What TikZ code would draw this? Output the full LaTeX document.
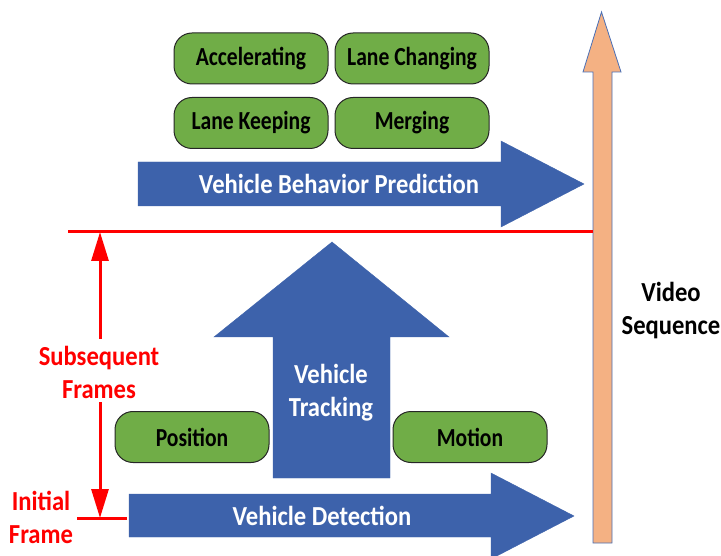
\documentclass[tikz,border=0pt]{standalone}
\usepackage{fontspec}
\setmainfont{Carlito}
\newfontfamily\boxff[FakeStretch=0.83]{Carlito}
\newfontfamily\bigff[FakeStretch=0.895]{Carlito}
\usetikzlibrary{arrows.meta}
\definecolor{boxgreen}{HTML}{70AD47}
\definecolor{arrowblue}{HTML}{3D62AB}
\definecolor{seqorange}{HTML}{F4B183}
\definecolor{seqedge}{HTML}{4A6FB5}
\definecolor{markred}{HTML}{FF0000}
\tikzset{
  boxfont/.style={font=\boxff\fontsize{26}{33}\selectfont\bfseries},
  bigfont/.style={font=\bigff\fontsize{27.5}{33}\selectfont\bfseries},
  greenbox/.style={boxfont, draw=black!85, line width=1pt, fill=boxgreen,
    rounded corners=18pt, minimum width=154pt, minimum height=51pt, inner sep=0pt, text=black},
  bluearrow/.style={fill=arrowblue, draw=arrowblue, line width=0.4pt},
  arrowtext/.style={bigfont, text=white, align=center},
  redtext/.style={bigfont, text=markred, align=center},
  redline/.style={draw=markred, line width=3pt},
  redarrow/.style={draw=markred, line width=3pt, -{Triangle[length=29pt,width=17pt]}},
}
\begin{document}
\begin{tikzpicture}[x=1pt,y=-1pt]
\useasboundingbox (0,0) rectangle (721,556);
% video sequence arrow
\path[fill=seqorange, draw=seqedge, line width=0.8pt]
  (593,543) -- (593,72) -- (583,72) -- (601.5,12) -- (621,72) -- (612,72) -- (612,543) -- cycle;
\node[bigfont, align=center] (video) at (671,311) {Video\\Sequence};
% behaviour prediction arrow
\path[bluearrow] (138,162) -- (501,162) -- (501,141) -- (584,184) -- (501,227) -- (501,206) -- (138,206) -- cycle;
\node[arrowtext] (bp) at (339,184) {Vehicle Behavior Prediction};
% behaviour boxes
\node[greenbox] (acc) at (251,58.5) {Accelerating};
\node[greenbox] (lc) at (412,58.5) {Lane Changing};
\node[greenbox] (lk) at (251,123) {Lane Keeping};
\node[greenbox] (mg) at (412,123) {Merging};
% red separator line
\coordinate (lineL) at (68,232);
\coordinate (lineR) at (593,232);
\draw[redline] (lineL) -- (lineR);
% tracking arrow
\path[bluearrow] (273,478) -- (273,337) -- (214,337) -- (332,242) -- (449,337) -- (390,337) -- (390,478) -- cycle;
\node[arrowtext] (tr) at (331,393) {Vehicle\\Tracking};
% position / motion
\node[greenbox] (pos) at (192,437) {Position};
\node[greenbox] (mot) at (470,437) {Motion};
% detection arrow
\path[bluearrow] (129,494) -- (491,494) -- (491,473) -- (574,516) -- (491,559) -- (491,537) -- (129,537) -- cycle;
\node[arrowtext] (det) at (322,516) {Vehicle Detection};
% frames annotation
\node[redtext] (sub) at (99,372) {Subsequent\\Frames};
\node[redtext] (init) at (41,517) {Initial\\Frame};
\coordinate (subTop) at (100,339);
\coordinate (subBot) at (100,402);
\coordinate (topHit) at (100,232);
\coordinate (botHit) at (100,518);
\coordinate (tickL) at (77,518);
\coordinate (tickR) at (127,518);
\draw[redarrow] (subTop) -- (topHit);
\draw[redarrow] (subBot) -- (botHit);
\draw[redline] (tickL) -- (tickR);
\end{tikzpicture}
\end{document}
